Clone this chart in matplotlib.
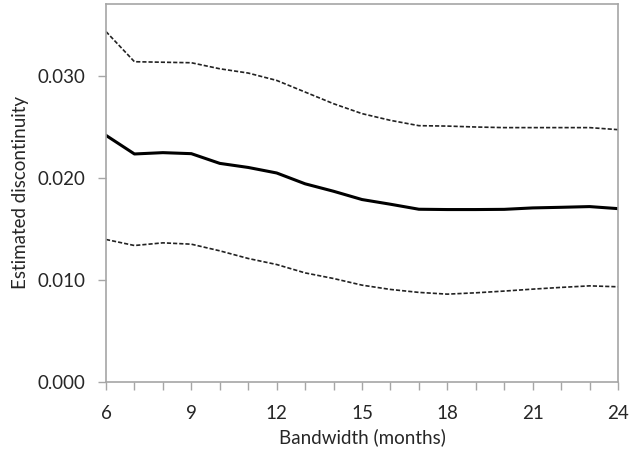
import matplotlib
matplotlib.use("Agg")
import matplotlib.pyplot as plt
from matplotlib.ticker import FixedLocator, MultipleLocator

plt.rcParams['font.family'] = ['Lato', 'DejaVu Sans']

bandwidth = list(range(6, 25))
estimate = [0.02414, 0.02232, 0.02245, 0.02235, 0.0214, 0.0210, 0.02046, 0.0194, 0.01867,
            0.01786, 0.0174, 0.01691, 0.01688, 0.01688, 0.0169, 0.01704, 0.0171, 0.01717, 0.01697]
upper = [0.0343, 0.03135, 0.0313, 0.03125, 0.03066, 0.03024, 0.02952, 0.02838, 0.02724,
         0.02627, 0.02561, 0.02509, 0.02505, 0.02496, 0.0249, 0.0249, 0.0249, 0.0249, 0.0247]
lower = [0.01395, 0.01336, 0.01362, 0.01349, 0.01284, 0.01209, 0.0115, 0.01068, 0.01013,
         0.00948, 0.00906, 0.00877, 0.0086, 0.00873, 0.0089, 0.00909, 0.00926, 0.00941, 0.00932]
xticks = [6, 9, 12, 15, 18, 21, 24]
yticks = [0.000, 0.010, 0.020, 0.030]
ytick_labels = ["0.000", "0.010", "0.020", "0.030"]

fig = plt.figure(figsize=(6.3, 4.53), dpi=100)
ax = fig.add_axes([106/630, 1-382/453, (618-106)/630, (382-4)/453])

ax.plot(bandwidth, estimate, color='black', lw=2.2, solid_joinstyle='round')
ax.plot(bandwidth, upper, color='#222222', lw=1.2, linestyle=(0, (2.5, 1.2)))
ax.plot(bandwidth, lower, color='#222222', lw=1.2, linestyle=(0, (2.5, 1.2)))

ax.set_xlim(6, 24)
ax.set_ylim(0, 0.037)
ax.xaxis.set_major_locator(FixedLocator(xticks))
ax.xaxis.set_minor_locator(MultipleLocator(1))
ax.set_yticks(yticks)
ax.set_yticklabels(ytick_labels)

for s in ax.spines.values():
    s.set_color('#a6a6a6')
    s.set_linewidth(1.2)

ax.tick_params(axis='both', which='both', color='#a6a6a6', direction='out', length=6, width=1,
               labelsize=13.5, labelcolor='#262626')
ax.tick_params(axis='x', pad=10.5)
ax.tick_params(axis='y', pad=9)

ax.set_xlabel("Bandwidth (months)", fontsize=13.5, color='#262626', labelpad=4.5)
ax.set_ylabel("Estimated discontinuity", fontsize=13.5, color='#262626', labelpad=6)

fig.savefig("out.png", dpi=100)
